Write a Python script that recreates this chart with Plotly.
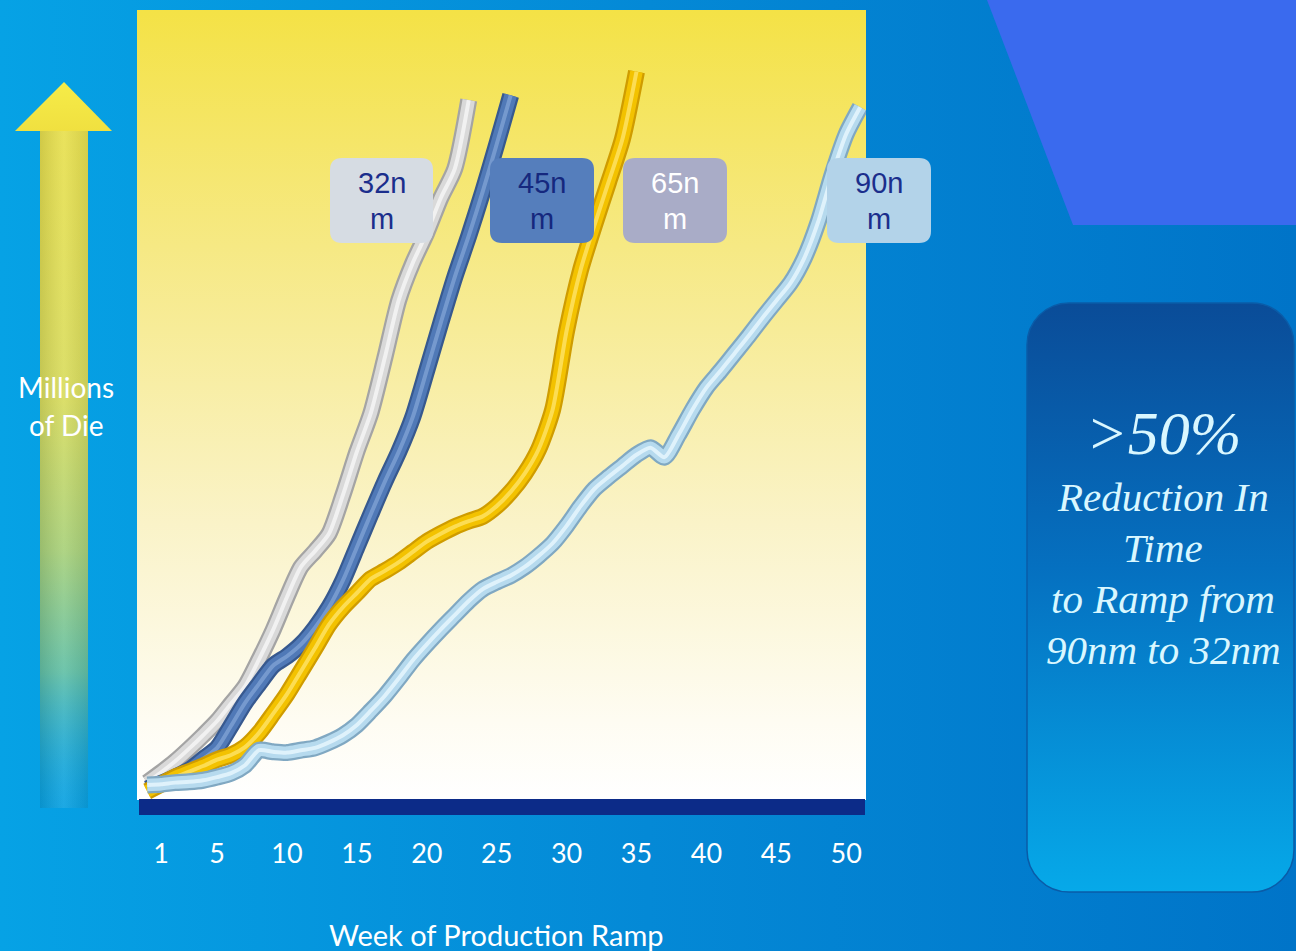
import base64
import plotly.graph_objects as go

# ---------------- data ----------------
series_names = ["32nm", "45nm", "65nm", "90nm"]

weeks_32 = list(range(0, 24))
vals_32 = [2.2, 3.5, 4.9, 6.5, 8.2, 10.0, 12.2, 14.4, 17.8, 21.5, 25.7, 29.5, 31.5, 33.7,
           38.6, 44.1, 49.0, 56.0, 63.3, 68.0, 71.8, 76.2, 79.9, 88.6]

weeks_45 = list(range(0, 27))
vals_45 = [1.4, 2.1, 2.9, 3.8, 5.2, 6.6, 9.4, 12.3, 14.7, 17.0, 18.2, 19.7, 21.8, 24.4,
           27.8, 32.0, 36.2, 40.3, 44.1, 48.5, 54.4, 60.4, 66.2, 71.4, 77.0, 83.0, 89.2]

weeks_65 = list(range(0, 36))
vals_65 = [1.1, 2.0, 2.9, 3.6, 4.3, 5.1, 5.7, 6.7, 8.5, 10.9, 13.4, 16.3, 19.2, 22.2,
           24.4, 26.2, 28.0, 29.0, 30.1, 31.4, 32.7, 33.7, 34.6, 35.3, 35.9, 37.2, 39.0,
           41.3, 44.4, 49.4, 59.4, 67.1, 72.8, 78.2, 83.7, 92.2]

weeks_90 = list(range(0, 52))
vals_90 = [1.9, 2.0, 2.2, 2.3, 2.5, 2.9, 3.4, 4.4, 6.3, 6.1, 6.0, 6.3, 6.6, 7.3, 8.2,
           9.5, 11.3, 13.2, 15.4, 17.7, 19.7, 21.6, 23.4, 25.2, 26.7, 27.6, 28.4, 29.5,
           30.9, 32.5, 34.7, 37.2, 39.4, 40.9, 42.3, 43.7, 44.6, 43.4, 46.2, 49.4, 52.2,
           54.3, 56.5, 58.7, 61.0, 63.2, 65.4, 68.6, 73.2, 79.2, 84.3, 87.7]

tick_weeks = [1, 5, 10, 15, 20, 25, 30, 35, 40, 45, 50]
tick_labels = [str(t) for t in tick_weeks]

x_title = "Week of Production Ramp"
y_title_lines = ["Millions", "of Die"]
callout_head = ">50%"
callout_lines = ["Reduction In", "Time", "to Ramp from", "90nm to 32nm"]

# ---------------- geometry helpers ----------------
W, H = 1296, 951
PL, PR, PT, PB = 137, 866, 10, 800   # plot area in pixels
PW, PH = PR - PL, PB - PT


def px(x):
    return (x - PL) / PW


def py(y):
    return (PB - y) / PH


def rrect(x0, y0, x1, y1, r):
    pts = [
        ("M", (x0 + r, y0)), ("L", (x1 - r, y0)), ("Q", (x1, y0), (x1, y0 + r)),
        ("L", (x1, y1 - r)), ("Q", (x1, y1), (x1 - r, y1)), ("L", (x0 + r, y1)),
        ("Q", (x0, y1), (x0, y1 - r)), ("L", (x0, y0 + r)), ("Q", (x0, y0), (x0 + r, y0)),
    ]
    out = []
    for item in pts:
        cmd = item[0]
        coords = " ".join(f"{px(a):.5f},{py(b):.5f}" for a, b in item[1:])
        out.append(f"{cmd} {coords}")
    return " ".join(out) + " Z"


# ---------------- background artwork (SVG) ----------------
svg = f'''<svg xmlns="http://www.w3.org/2000/svg" width="{W}" height="{H}" viewBox="0 0 {W} {H}" preserveAspectRatio="none">
<defs>
<linearGradient id="bg" x1="0" y1="0" x2="1" y2="0">
<stop offset="0" stop-color="#06A2E5"/>
<stop offset="0.5" stop-color="#0489D6"/>
<stop offset="1" stop-color="#0074C8"/>
</linearGradient>
<linearGradient id="pa" x1="0" y1="0" x2="0" y2="1">
<stop offset="0" stop-color="#F4E246"/>
<stop offset="0.3" stop-color="#F6E984"/>
<stop offset="0.65" stop-color="#FAF3C8"/>
<stop offset="0.9" stop-color="#FEFCF2"/>
<stop offset="1" stop-color="#FFFFFF"/>
</linearGradient>
<linearGradient id="shaft" x1="0" y1="0" x2="0" y2="1">
<stop offset="0" stop-color="#E8E04E"/>
<stop offset="0.4" stop-color="#D8DC5E"/>
<stop offset="0.62" stop-color="#A9D17A"/>
<stop offset="0.8" stop-color="#62C0A6"/>
<stop offset="1" stop-color="#18A8DC" stop-opacity="0.2"/>
</linearGradient>
<linearGradient id="shaftshade" x1="0" y1="0" x2="1" y2="0">
<stop offset="0" stop-color="#000000" stop-opacity="0.10"/>
<stop offset="0.5" stop-color="#FFFFFF" stop-opacity="0.08"/>
<stop offset="1" stop-color="#000000" stop-opacity="0.08"/>
</linearGradient>
<linearGradient id="head" x1="0" y1="0" x2="0" y2="1">
<stop offset="0" stop-color="#F6EC48"/>
<stop offset="1" stop-color="#F0E040"/>
</linearGradient>
<linearGradient id="box" x1="0" y1="0" x2="0" y2="1">
<stop offset="0" stop-color="#0A4C98"/>
<stop offset="0.45" stop-color="#0570C0"/>
<stop offset="1" stop-color="#06A9E9"/>
</linearGradient>
</defs>
<rect x="0" y="0" width="{W}" height="{H}" fill="url(#bg)"/>
<polygon points="987,0 1296,0 1296,225 1073,225" fill="#3A6AEE"/>
<rect x="{PL}" y="{PT}" width="{PW}" height="{PH}" fill="url(#pa)"/>
<rect x="40" y="128" width="48" height="680" fill="url(#shaft)"/>
<rect x="40" y="128" width="48" height="680" fill="url(#shaftshade)"/>
<polygon points="64,82 112,131 15,131" fill="url(#head)"/>
<rect x="1027" y="303" width="267" height="589" rx="42" ry="42" fill="url(#box)" stroke="#0A5CA8" stroke-width="1.5"/>
</svg>'''
svg_uri = "data:image/svg+xml;base64," + base64.b64encode(svg.encode()).decode()

# ---------------- figure ----------------
fig = go.Figure()

styles = {
    "32nm": ("#A4A4A4", "#D9D9D9", "#F7F7F7"),
    "45nm": ("#37598F", "#5079B7", "#7FA2D4"),
    "65nm": ("#CF9C00", "#F3C200", "#FFE468"),
    "90nm": ("#80A8C2", "#B6DAEE", "#EAF8FF"),
}
data = {
    "32nm": (weeks_32, vals_32),
    "45nm": (weeks_45, vals_45),
    "65nm": (weeks_65, vals_65),
    "90nm": (weeks_90, vals_90),
}

for name in series_names:
    xs, ys = data[name]
    edge, main, hi = styles[name]
    for col, wdt, op in [(edge, 17, 1.0), (main, 12.5, 1.0), (hi, 4, 0.8)]:
        fig.add_trace(go.Scatter(
            x=xs, y=ys, mode="lines", name=name, showlegend=False, hoverinfo="skip",
            opacity=op,
            line=dict(color=col, width=wdt, shape="spline", smoothing=0.7),
        ))

shapes = []
# navy base bar
shapes.append(dict(type="rect", xref="paper", yref="paper",
                   x0=px(139), x1=px(865), y0=py(815), y1=py(799),
                   fillcolor="#0C2B88", line=dict(width=0), layer="above"))

# series label boxes
boxes = {
    "32nm": ((330, 158, 433, 243), "#D6DCE3", "#1B2E8C"),
    "45nm": ((490, 158, 594, 243), "#557EBC", "#15287E"),
    "65nm": ((623, 158, 727, 243), "#A9ACC7", "#FFFFFF"),
    "90nm": ((827, 158, 931, 243), "#B3D3E9", "#1B2E8C"),
}
annotations = []
for name in series_names:
    (x0, y0, x1, y1), fill, tcol = boxes[name]
    shapes.append(dict(type="path", xref="paper", yref="paper",
                       path=rrect(x0, y0, x1, y1, 12),
                       fillcolor=fill, line=dict(width=0), layer="above"))
    cx = (x0 + x1) / 2
    for i, part in enumerate([name[:-1], name[-1]]):
        annotations.append(dict(
            x=px(cx), y=py(183 + 36 * i), xref="paper", yref="paper",
            text=part, showarrow=False, xanchor="center", yanchor="middle",
            font=dict(family="Liberation Sans, Arial", size=29, color=tcol)))

# y title
for i, line in enumerate(y_title_lines):
    annotations.append(dict(
        x=px(66), y=py(387 + 38 * i), xref="paper", yref="paper", text=line,
        showarrow=False, xanchor="center", yanchor="middle",
        font=dict(family="Lato", size=28, color="white")))

# x title
annotations.append(dict(
    x=px(496), y=py(934), xref="paper", yref="paper", text=x_title,
    showarrow=False, xanchor="center", yanchor="middle",
    font=dict(family="Lato", size=29, color="white")))

# callout box text
annotations.append(dict(
    x=px(1163), y=py(433), xref="paper", yref="paper", text=f"<i>{callout_head}</i>",
    showarrow=False, xanchor="center", yanchor="middle",
    font=dict(family="Liberation Serif, Times New Roman", size=62, color="#D9F7FF")))
for i, line in enumerate(callout_lines):
    annotations.append(dict(
        x=px(1163), y=py(497 + 51 * i), xref="paper", yref="paper", text=f"<i>{line}</i>",
        showarrow=False, xanchor="center", yanchor="middle",
        font=dict(family="Liberation Serif, Times New Roman", size=41, color="#D9F7FF")))

x0w = 10 - (287 - PL) / 13.98
x1w = x0w + PW / 13.98

fig.update_layout(
    width=W, height=H,
    margin=dict(l=PL, r=W - PR, t=PT, b=H - PB, pad=0),
    paper_bgcolor="#0590D8",
    plot_bgcolor="rgba(0,0,0,0)",
    showlegend=False,
    xaxis=dict(range=[x0w, x1w], tickvals=tick_weeks, ticktext=tick_labels,
               showgrid=False, zeroline=False, showline=False,
               ticks="outside", ticklen=30, tickcolor="rgba(0,0,0,0)",
               tickfont=dict(family="Lato", size=27, color="white"), fixedrange=True),
    yaxis=dict(range=[0, 100], visible=False, showgrid=False, zeroline=False, fixedrange=True),
    images=[dict(source=svg_uri, xref="paper", yref="paper",
                 x=px(0), y=py(0), sizex=W / PW, sizey=H / PH,
                 xanchor="left", yanchor="top", sizing="stretch", layer="below")],
    shapes=shapes,
    annotations=annotations,
)

fig.write_html("out.html")
